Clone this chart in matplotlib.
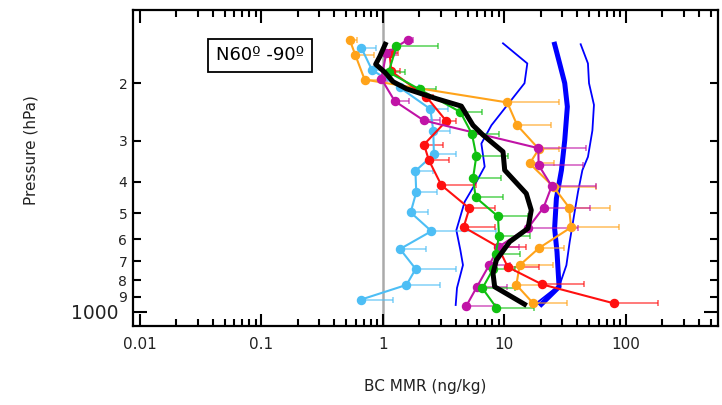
import numpy as np
import matplotlib
matplotlib.use('Agg')
import matplotlib.pyplot as plt
from matplotlib.colors import to_rgba
from matplotlib.ticker import FixedLocator, FixedFormatter, NullFormatter

# observed profiles: BC MMR (ng/kg), pressure (hPa), one-sided error (ng/kg)
orange_x = [0.535, 0.596, 0.711, 10.6, 12.8, 19.3, 16.2, 25.5, 34.2, 35.5, 19.3, 13.4, 12.6, 17.3]
orange_p = [147, 164, 195, 229, 269, 318, 352, 415, 480, 552, 639, 721, 828, 942]
orange_e = [0.08, 0.25, 0.29, 17.5, 11.7, 8.8, 9.3, 31, 39.6, 52, 11.6, 11.7, 7, 15.4]

cyan_x = [0.668, 0.816, 1.38, 2.47, 2.61, 2.64, 1.86, 1.89, 1.70, 2.52, 1.39, 1.87, 1.57, 0.659]
cyan_p = [156, 182, 206, 240, 280, 330, 371, 431, 497, 567, 643, 740, 828, 919]
cyan_e = [0.21, 0.18, 0.6, 0.96, 1.0, 1.4, 0.72, 0.89, 0.64, 6.1, 0.9, 2.17, 1.38, 0.56]

green_x = [1.30, 1.12, 2.02, 4.36, 5.43, 5.90, 5.54, 5.83, 8.89, 9.07, 8.51, 8.09, 6.62, 8.63]
green_p = [154, 185, 209, 245, 286, 334, 391, 447, 511, 587, 666, 742, 848, 972]
green_e = [1.55, 0.4, 0.75, 2.26, 3.6, 4.8, 3.8, 3.95, 6.8, 7.1, 5.1, 4.3, 5.6, 8.9]

red_x = [1.14, 1.18, 2.29, 3.34, 2.19, 2.40, 3.04, 5.17, 4.64, 8.89, 10.7, 20.5, 80.1]
red_p = [162, 184, 220, 261, 308, 344, 410, 483, 551, 633, 730, 825, 943]
red_e = [0.2, 0.2, 0.3, 0.65, 0.95, 1.1, 2.86, 3.2, 3.7, 6.3, 8.6, 24.6, 104]

mag_x = [1.62, 1.07, 0.976, 1.26, 2.18, 19.1, 19.2, 24.6, 21.1, 15.8, 9.06, 7.50, 5.97, 4.89]
mag_p = [147, 162, 194, 227, 260, 316, 356, 413, 480, 553, 632, 722, 839, 959]
mag_e = [0.16, 0.23, 0.1, 0.39, 0.8, 28.2, 25, 32.6, 29.5, 24.8, 4.3, 3.6, 4.5, 3.5]

# observation mean
mean_x = [1.05, 0.945, 0.876, 1.04, 1.22, 1.57, 2.77, 4.44, 5.54, 6.69, 9.78, 10.1,
          15.2, 16.7, 15.7, 11.1, 8.63, 8.09, 8.35, 14.7]
mean_p = [152, 166, 175, 185, 198, 208, 223, 235, 269, 288, 324, 369,
          435, 489, 556, 611, 695, 763, 839, 949]

# model mean and range
mod_x = [26.0, 28.6, 31.5, 33.1, 31.5, 29.6, 26.9, 26.0, 27.2, 28.3, 20.2]
mod_p = [152, 174, 200, 236, 299, 369, 450, 556, 656, 839, 949]
lo_x = [9.78, 15.5, 14.7, 7.85, 6.49, 6.91, 5.90, 4.73, 4.04, 4.36, 4.58, 4.09, 3.99]
lo_p = [151, 174, 200, 269, 306, 360, 401, 461, 563, 648, 720, 846, 954]
hi_x = [42.6, 48.9, 49.9, 54.8, 53.2, 48.9, 44.0, 40.5, 38.0, 34.6, 32.5, 28.6, 18.4]
hi_p = [152, 174, 200, 233, 279, 336, 369, 430, 495, 611, 721, 828, 942]

fig = plt.figure(figsize=(7.22, 4.05), dpi=100)
ax = fig.add_axes([0.184, 0.196, 0.8105, 0.7805])

ax.axvline(1, color='#aaaaaa', lw=1.8, zorder=1)

ax.plot(lo_x, lo_p, color='#0000ff', lw=1.3, zorder=2)
ax.plot(hi_x, hi_p, color='#0000ff', lw=1.3, zorder=2)
ax.plot(mod_x, mod_p, color='#0000ff', lw=3.6, zorder=2)

series = [
    (cyan_x, cyan_p, cyan_e, '#4dbef5'),
    (orange_x, orange_p, orange_e, '#ffa31a'),
    (red_x, red_p, red_e, '#ff1010'),
    (mag_x, mag_p, mag_e, '#c013a6'),
    (green_x, green_p, green_e, '#10c010'),
]
for x, p, e, c in series:
    ax.errorbar(x, p, xerr=[np.zeros(len(e)), e], fmt='o-', color=c, ms=5.8,
                lw=1.5, ecolor=to_rgba(c, 0.65), elinewidth=1.2, capsize=2,
                capthick=1.2, zorder=3)

ax.plot(mean_x, mean_p, color='black', lw=3.6, zorder=4)

ax.set_xscale('log')
ax.set_yscale('log')
ax.set_xlim(0.0088, 575)
ax.set_ylim(1103, 119)

ax.xaxis.set_major_locator(FixedLocator([0.01, 0.1, 1, 10, 100]))
ax.xaxis.set_major_formatter(FixedFormatter(['0.01', '0.1', '1', '10', '100']))
ax.xaxis.set_minor_locator(FixedLocator([m * 10.0 ** k for k in range(-2, 3) for m in range(2, 10)]))
ax.xaxis.set_minor_formatter(NullFormatter())

ax.yaxis.set_major_locator(FixedLocator([1000]))
ax.yaxis.set_major_formatter(FixedFormatter(['1000']))
ax.yaxis.set_minor_locator(FixedLocator([200, 300, 400, 500, 600, 700, 800, 900]))
ax.yaxis.set_minor_formatter(FixedFormatter(['2', '3', '4', '5', '6', '7', '8', '9']))

ax.tick_params(which='both', direction='in', top=True, right=True, width=1.5, colors='black', labelcolor='#222222')
ax.tick_params(axis='x', which='major', length=9, labelsize=11, pad=8)
ax.tick_params(axis='x', which='minor', length=5)
ax.tick_params(axis='y', which='major', length=10, labelsize=13.5, pad=10)
ax.tick_params(axis='y', which='minor', length=6, labelsize=10, pad=4)
for s in ax.spines.values():
    s.set_linewidth(1.6)

ax.set_xlabel('BC MMR (ng/kg)', fontsize=11, color='#222222')
ax.set_ylabel('Pressure (hPa)', fontsize=11, color='#222222')
ax.xaxis.set_label_coords(0.5, -0.17)
ax.yaxis.set_label_coords(-0.162, 0.556)

ax.text(0.142, 0.855, 'N60º -90º', transform=ax.transAxes, fontsize=13, color='black',
        va='center', ha='left',
        bbox=dict(boxstyle='square,pad=0.42', fc='white', ec='black', lw=1.3), zorder=6)

fig.savefig('out.png', dpi=100)
